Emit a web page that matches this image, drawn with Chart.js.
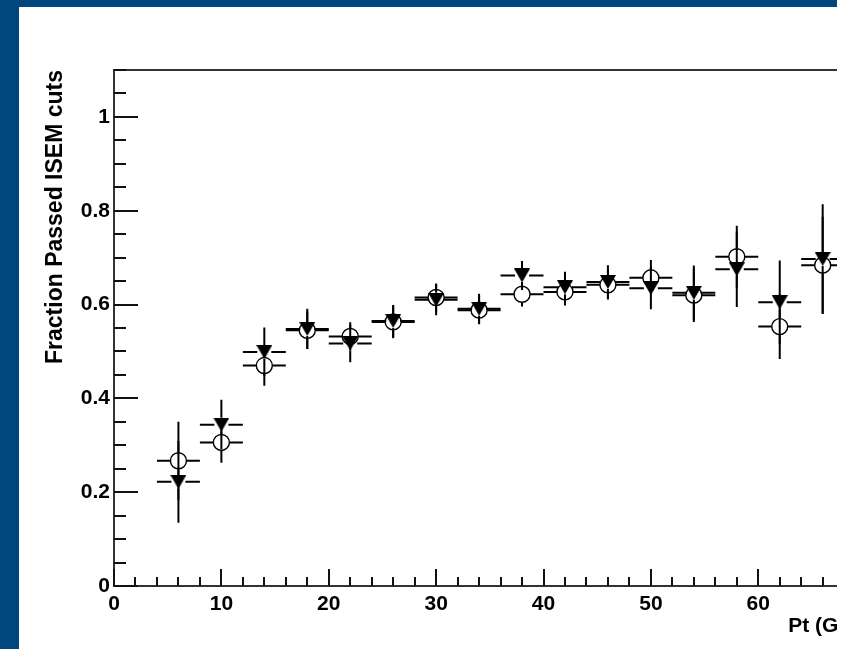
<!DOCTYPE html>
<html>
<head>
<meta charset="utf-8">
<script src="https://cdn.jsdelivr.net/npm/chart.js@4.4.1/dist/chart.umd.min.js"></script>
<style>
  html, body { margin: 0; padding: 0; background: #fff; }
  body { width: 852px; height: 649px; position: relative; overflow: hidden; }
  .edge-left { position: absolute; left: 0; top: 0; width: 19px; height: 649px; background: #00477e; }
  .edge-top { position: absolute; left: 0; top: 0; width: 837px; height: 7px; background: #00477e; }
  .plot { position: absolute; left: 19px; top: 7px; width: 818px; height: 642px; overflow: hidden; }
</style>
</head>
<body>
<div class="edge-left"></div>
<div class="edge-top"></div>
<div class="plot"><canvas id="ptChart" width="900" height="642"></canvas></div>
<script>
// pt bins (GeV), each bin is 4 GeV wide
const ptBins = [6, 10, 14, 18, 22, 26, 30, 34, 38, 42, 46, 50, 54, 58, 62, 66];
const binHalfWidth = 2;

// open circles
const circleEff = [0.267, 0.306, 0.470, 0.545, 0.532, 0.563, 0.615, 0.588, 0.622, 0.627, 0.642, 0.657, 0.620, 0.702, 0.553, 0.684];
const circleErr = [0.083, 0.043, 0.043, 0.040, 0.030, 0.035, 0.030, 0.030, 0.026, 0.029, 0.031, 0.038, 0.057, 0.066, 0.069, 0.103];

// filled down triangles
const triEff = [0.222, 0.344, 0.499, 0.548, 0.517, 0.565, 0.610, 0.591, 0.662, 0.637, 0.648, 0.635, 0.625, 0.675, 0.605, 0.697];
const triErr = [0.087, 0.053, 0.052, 0.043, 0.040, 0.034, 0.033, 0.032, 0.031, 0.033, 0.036, 0.045, 0.058, 0.080, 0.089, 0.117];

const xTitle = "Pt (GeV)";
const yTitle = "Fraction Passed ISEM cuts";

function toPoints(vals, errs) {
    return ptBins.map((x, i) => ({x: x, y: vals[i], err: errs[i]}));
}

// down triangle marker, centred on its box like ROOT does
const triMarker = document.createElement("canvas");
triMarker.width = 16;
triMarker.height = 14;
(function(){
    const c = triMarker.getContext("2d");
    c.fillStyle = "#000";
    c.beginPath();
    c.moveTo(0, 0);
    c.lineTo(16, 0);
    c.lineTo(8, 14);
    c.closePath();
    c.fill();
})();

const labelFont = {family: "'Liberation Sans', Arial, sans-serif", size: 21, weight: "bold"};

// error bars with a gap round the marker
const errorBars = {
    id: "errorBars",
    beforeDatasetsDraw(chart) {
        const ctx = chart.ctx;
        const xs = chart.scales.x, ys = chart.scales.y;
        ctx.save();
        ctx.beginPath();
        ctx.rect(chart.chartArea.left, chart.chartArea.top, chart.chartArea.right - chart.chartArea.left, chart.chartArea.bottom - chart.chartArea.top);
        ctx.clip();
        ctx.strokeStyle = "#000";
        ctx.lineWidth = 2;
        chart.data.datasets.forEach(ds => {
            const gap = ds.errGap;
            ds.data.forEach(p => {
                const px = xs.getPixelForValue(p.x);
                const py = ys.getPixelForValue(p.y);
                const x0 = xs.getPixelForValue(p.x - binHalfWidth);
                const x1 = xs.getPixelForValue(p.x + binHalfWidth);
                const yTop = ys.getPixelForValue(p.y + p.err);
                const yBot = ys.getPixelForValue(p.y - p.err);
                ctx.beginPath();
                ctx.moveTo(x0, py); ctx.lineTo(px - gap, py);
                ctx.moveTo(px + gap, py); ctx.lineTo(x1, py);
                if (py - yTop > gap) { ctx.moveTo(px, yTop); ctx.lineTo(px, py - gap); }
                if (yBot - py > gap) { ctx.moveTo(px, py + gap); ctx.lineTo(px, yBot); }
                ctx.stroke();
            });
        });
        ctx.restore();
    }
};

// ROOT style frame and inward ticks
const frameTicks = {
    id: "frameTicks",
    beforeDatasetsDraw(chart) {
        const ctx = chart.ctx;
        const {left, right, top, bottom} = chart.chartArea;
        const xs = chart.scales.x, ys = chart.scales.y;
        ctx.save();
        ctx.strokeStyle = "#333";
        ctx.lineWidth = 2;
        ctx.strokeRect(left, top, right - left, bottom - top);
        ctx.strokeStyle = "#111";
        ctx.beginPath();
        for (let v = 0; v <= xs.max + 1e-9; v += 2) {
            const px = Math.round(xs.getPixelForValue(v));
            const len = (v % 10 === 0) ? 17 : 9;
            ctx.moveTo(px, bottom);
            ctx.lineTo(px, bottom - len);
        }
        for (let k = 0; k * 0.05 <= ys.max + 1e-9; k++) {
            const py = Math.round(ys.getPixelForValue(k * 0.05));
            const len = (k % 4 === 0) ? 24 : 12;
            ctx.moveTo(left, py);
            ctx.lineTo(left + len, py);
        }
        ctx.stroke();
        ctx.restore();
    }
};

new Chart("ptChart", {
    type: "scatter",
    data: {
        datasets: [{
            data: toPoints(circleEff, circleErr),
            pointStyle: "circle",
            pointRadius: 8,
            pointHoverRadius: 8,
            borderWidth: 1.4,
            borderColor: "#000",
            backgroundColor: "rgba(0,0,0,0)",
            errGap: 8,
            order: 2
        }, {
            data: toPoints(triEff, triErr),
            pointStyle: triMarker,
            pointRadius: 8,
            borderColor: "#000",
            backgroundColor: "#000",
            errGap: 7,
            order: 1
        }]
    },
    options: {
        responsive: false,
        animation: false,
        devicePixelRatio: 1,
        layout: {padding: {left: 0, right: 48, top: 63, bottom: 0}},
        plugins: {legend: {display: false}, tooltip: {enabled: false}},
        scales: {
            x: {
                type: "linear",
                min: 0,
                max: 70.5,
                grid: {display: false, drawTicks: false},
                border: {display: false},
                ticks: {
                    stepSize: 10,
                    autoSkip: false,
                    maxRotation: 0,
                    padding: 6,
                    color: "#000",
                    font: labelFont,
                    callback: v => (Math.abs(v % 10) < 1e-6 ? String(v) : "")
                },
                title: {
                    display: true,
                    text: xTitle,
                    align: "end",
                    color: "#000",
                    font: labelFont,
                    padding: {top: 0, bottom: 10}
                },
                afterFit: s => { s.height = 63; }
            },
            y: {
                min: 0,
                max: 1.1,
                grid: {display: false, drawTicks: false},
                border: {display: false},
                ticks: {
                    stepSize: 0.2,
                    autoSkip: false,
                    padding: 4,
                    color: "#000",
                    font: labelFont,
                    callback: v => {
                        const r = v / 0.2;
                        return Math.abs(r - Math.round(r)) < 1e-6 ? String(Math.round(v * 10) / 10) : "";
                    }
                },
                title: {
                    display: true,
                    text: yTitle,
                    align: "end",
                    color: "#000",
                    font: {family: "'Liberation Sans', Arial, sans-serif", size: 23, weight: "bold"},
                    padding: {top: 23, bottom: 0}
                },
                afterFit: s => { s.width = 95; }
            }
        }
    },
    plugins: [errorBars, frameTicks]
});
</script>
</body>
</html>
